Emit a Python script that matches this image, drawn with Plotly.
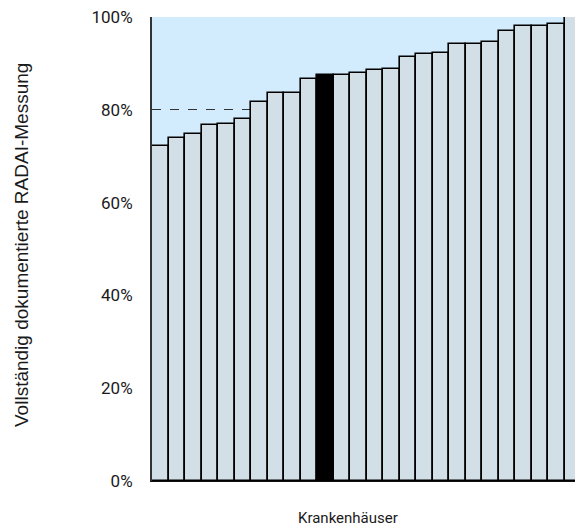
import plotly.graph_objects as go

hospitals = [f"KH {i}" for i in range(1, 27)]
values = [72.3, 73.9, 74.7, 76.8, 76.9, 78.1, 81.6, 83.6, 83.7, 86.7,
          87.5, 87.6, 88.0, 88.5, 88.8, 91.4, 92.1, 92.2, 94.2, 94.2,
          94.6, 97.0, 98.1, 98.0, 98.4, 100.0]
highlight_index = 10
y_ticks = [0, 20, 40, 60, 80, 100]
y_ticktext = [f"{v}%" for v in y_ticks]
y_title = "Vollständig dokumentierte RADAI-Messung"
x_title = "Krankenhäuser"

bar_fill = "rgb(211,223,231)"
colors = ["#000000" if i == highlight_index else bar_fill for i in range(len(values))]

TICKFONT = "Roboto, Arial, sans-serif"
REGULAR = "Liberation Sans, Arial, Helvetica, sans-serif"
TXT = "#1a1a1a"

# the chart in the reference continues slightly past the right edge of the window
W, H = 581, 528
L, R, T, B = 152, 0, 17, 47
pw = W - L - R
ph = H - T - B

fig = go.Figure(go.Bar(
    x=list(range(len(values))), y=values,
    marker=dict(color=colors, line=dict(color="#000000", width=1.6)),
    width=1.0,
    hoverinfo="y",
))

fig.update_layout(
    width=W, height=H,
    margin=dict(l=L, r=R, t=T, b=B, pad=0),
    paper_bgcolor="white",
    plot_bgcolor="rgb(210,236,253)",
    bargap=0,
    showlegend=False,
    font=dict(family=TICKFONT, size=16, color=TXT),
    xaxis=dict(
        range=[-0.5, len(values) - 0.5], showticklabels=False, ticks="", showgrid=False,
        zeroline=False, showline=True, linecolor="#111111", linewidth=1,
        mirror=False,
    ),
    yaxis=dict(
        range=[0, 100], tickmode="array", tickvals=y_ticks, ticktext=y_ticktext,
        ticks="",
        showgrid=True, gridcolor="#333333", gridwidth=1, griddash="dash",
        zeroline=False, showline=True, linecolor="#333333", linewidth=2,
        ticklabelstandoff=14,
        tickfont=dict(family=TICKFONT, size=17, color=TXT),
    ),
    annotations=[
        dict(text=y_title, textangle=-90, xref="paper", yref="paper",
             x=(21 - L) / pw, y=(481 - 245) / ph, xanchor="center", yanchor="middle",
             showarrow=False, font=dict(family=REGULAR, size=19, color=TXT)),
        dict(text=x_title, xref="paper", yref="paper",
             x=(348 - L) / pw, y=(481 - 518) / ph, xanchor="center", yanchor="middle",
             showarrow=False, font=dict(family=TICKFONT, size=15, color=TXT)),
    ],
)

fig.write_html("out.html", config={"displayModeBar": False},
               post_script="document.body.style.margin='0';document.body.style.overflow='hidden';")
